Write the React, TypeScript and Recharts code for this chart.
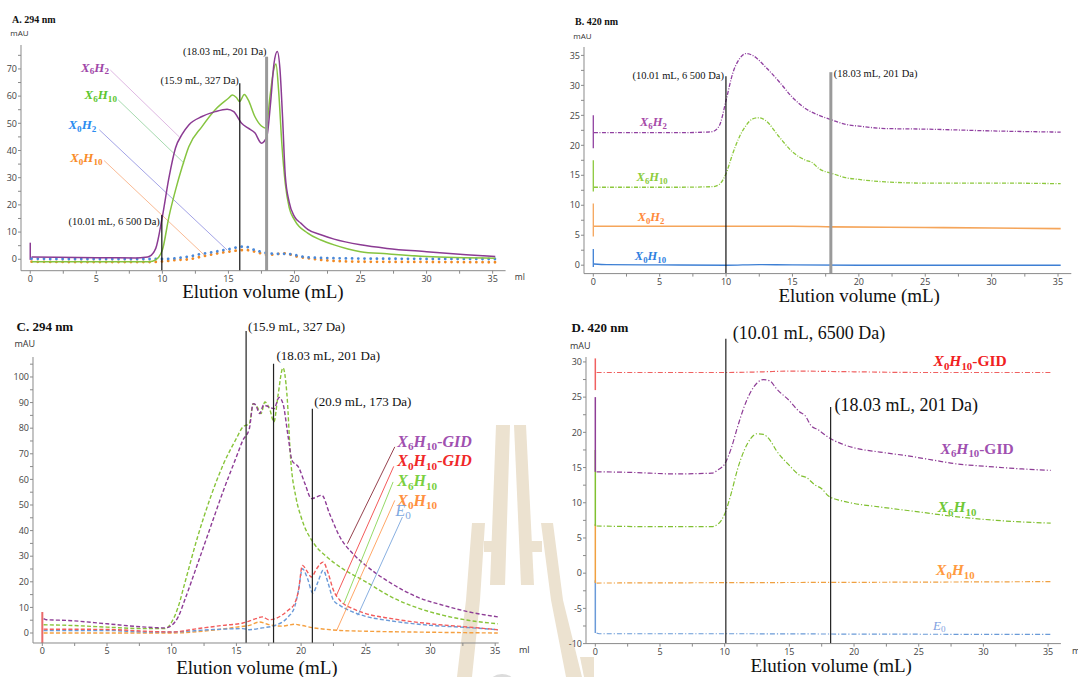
import type { ReactNode } from 'react';
import { LineChart, Line, XAxis, YAxis, ReferenceLine, ReferenceDot } from 'recharts';

type Pair = [number, number];

// ---------- A. 294 nm ----------
const A_X6H2: Pair[] = [
  [0.1, 0.8], [2, 0.7], [5, 0.6], [8, 0.5], [8.7, 0.7], [9, 1], [9.5, 4], [10, 15.7], [10.5, 30],
  [11, 41], [11.5, 46], [12, 49.4], [13, 52.5], [14, 54.3], [14.9, 55.2], [15.4, 54.3], [16, 50],
  [16.5, 48.2], [17, 46.5], [17.5, 42.7], [17.9, 45], [18.2, 58], [18.45, 72], [18.7, 76.4],
  [18.9, 70], [19.1, 52], [19.3, 31], [19.6, 21], [20, 15.7], [20.5, 13.2], [21, 11], [22, 9],
  [23, 7.4], [25, 5.3], [27, 4], [30, 2.8], [33, 1.7], [35.2, 1],
];
const A_X6H10: Pair[] = [
  [0.1, -0.9], [3, -0.9], [6, -0.9], [9, -0.9], [9.5, -0.2], [10, 3.4], [10.5, 15.7], [11, 25.5],
  [11.5, 34], [12, 41.4], [13, 48.8], [14, 55], [15, 59.2], [15.3, 60.4], [15.6, 59.5], [15.85, 58],
  [16.2, 60.6], [16.5, 58.6], [17, 52.5], [17.5, 49], [17.85, 48.2], [18.15, 60], [18.4, 69],
  [18.6, 71.8], [18.8, 62], [19.05, 42], [19.3, 28], [19.6, 19], [20, 14.5], [21, 9.6], [22, 7.1],
  [23, 5.3], [25, 2.8], [27, 2], [30, 1], [35.2, 0.4],
];
const A_X0H2: Pair[] = [
  [0.1, 0.2], [3, 0.1], [6, 0.1], [9, 0.1], [10, 0.1], [11, 0.4], [12, 1], [13, 2], [14, 2.8],
  [15, 3.7], [16.2, 4.7], [17, 3.4], [18, 2.2], [19, 2], [19.5, 2], [20, 1.6], [21, 0.7], [23, 0.4],
  [27, 0.2], [35.2, 0.1],
];
const A_X0H10: Pair[] = [
  [0.1, -0.9], [3, -1], [6, -1], [9, -1], [10, -0.8], [11, -0.3], [12, 0], [13, 1], [14, 2],
  [15, 2.8], [16.3, 3.4], [17, 2.8], [18, 1.6], [19.3, 2.2], [20, 1.2], [21, 0.4], [22, -0.2],
  [25, -0.9], [30, -1], [35.2, -1.1],
];
const A_SPIKE: Pair = [-0.2, 6.1];
const A_MARK_X = [9.96, 15.86, 17.89];
const A_MARK_TOP = [16.3, 64.7, 74.5];
const A_MARK_TEXT = ['(10.01 mL, 6 500 Da)', '(15.9 mL, 327 Da)', '(18.03 mL, 201 Da)'];

// ---------- B. 420 nm ----------
const B_X6H2: Pair[] = [
  [0.05, 22.1], [3, 22.1], [6, 22.1], [8.5, 22.2], [9, 22.3], [9.5, 23.3], [10, 27.5], [10.5, 32],
  [11, 34.4], [11.5, 35.3], [12, 35], [13, 33], [14, 30.6], [15, 28], [16, 26.1], [17, 25],
  [18, 24.2], [19, 23.5], [20, 23.2], [22, 22.8], [25, 22.7], [30, 22.4], [35.2, 22.2],
];
const B_X6H10: Pair[] = [
  [0.05, 13], [3, 13], [6, 13], [9, 13.1], [9.5, 13.5], [10, 15.3], [10.5, 18.6], [11, 21.4],
  [11.5, 23.3], [12, 24.4], [12.5, 24.6], [13, 24.1], [14, 21.4], [15, 18.9], [16, 17.5],
  [16.5, 17.1], [17, 16.1], [18, 15.3], [19, 14.6], [20, 14.3], [22, 13.9], [25, 13.7], [30, 13.7],
  [35.2, 13.6],
];
const B_X0H2: Pair[] = [[0.05, 6.5], [10, 6.5], [15, 6.5], [18, 6.4], [25, 6.3], [30, 6.2], [35.2, 6.1]];
const B_X0H10: Pair[] = [[0.05, 0.2], [1, 0.1], [5, 0.05], [10, 0], [12.5, 0.1], [15, 0.05], [20, 0], [35.2, 0]];
const B_SPIKES: Pair[] = [[19.5, 25], [12.3, 17.5], [4.8, 10.3], [-0.3, 2.7]];
const B_MARK_X = [9.99, 17.89];
const B_MARK_TOP = [31.5, 32.2];
const B_MARK_TEXT = ['(10.01 mL, 6 500 Da)', '(18.03 mL, 201 Da)'];

// ---------- C. 294 nm ----------
const C_X6H10GID: Pair[] = [
  [0.1, 5.6], [0.3, 5.2], [2, 4.9], [5, 3.6], [8, 2.3], [9.5, 2], [10, 3], [10.5, 6.3], [11, 12.8],
  [12, 27], [13, 41.4], [14, 55.7], [15, 68.8], [15.5, 75.3], [16, 79.8], [16.3, 89.6], [16.5, 89],
  [16.8, 85.7], [17.1, 89], [17.5, 88.3], [17.9, 87.6], [18.3, 92], [18.6, 89.6], [19, 76.6],
  [19.3, 67.4], [19.8, 64.8], [20.3, 58.3], [20.8, 52.5], [21.6, 53.8], [22.2, 46.6], [23, 37.5],
  [24, 31], [25, 26.4], [27, 19.3], [29, 14], [31, 10.8], [33, 8.2], [35.2, 6.3],
];
const C_X6H10: Pair[] = [
  [0.1, 3.2], [2, 3], [5, 2.3], [8, 1.7], [9.5, 1.7], [10, 4.3], [10.5, 10.2], [11, 19.3], [12, 37.5],
  [13, 53], [14, 66], [15, 76], [15.5, 80.5], [16, 81.8], [16.3, 89.6], [16.6, 88.3], [16.9, 85.7],
  [17.2, 90.2], [17.6, 87], [17.9, 82.4], [18.2, 92.2], [18.6, 103.6], [18.9, 93.5], [19.2, 67.4],
  [19.6, 53], [20, 45.3], [21, 34.9], [22, 29.7], [23, 25.8], [25, 20], [27, 14], [29, 9.8],
  [31, 6.9], [33, 4.9], [35.2, 3.6],
];
const C_X0H10GID: Pair[] = [
  [0.1, 1.5], [5, 1.4], [8, 0.7], [10, 0.4], [12, 1.7], [14, 3], [15.5, 3.9], [16.5, 5.6], [17, 6.3],
  [17.5, 5.2], [18, 5.6], [18.5, 6.9], [19, 8.9], [19.5, 11.5], [19.8, 16.7], [20.1, 26.4],
  [20.5, 23.8], [20.8, 21.9], [21.2, 25.1], [21.7, 27.7], [22.1, 23.2], [22.5, 16.7], [23, 12.8],
  [24, 9.5], [25, 7.6], [27, 5.6], [30, 3.6], [33, 2.3], [35.2, 1.3],
];
const C_E0: Pair[] = [
  [0.1, 1], [5, 1], [8, 0.4], [10, 0.4], [13, 1.3], [15.5, 1.7], [16, 1.3], [17, 2], [18, 3], [19, 6.3],
  [19.5, 10.2], [19.8, 16.7], [20.1, 25.1], [20.5, 21.2], [20.9, 15.6], [21.3, 19.9], [21.7, 24.5],
  [22.1, 19.3], [22.5, 12.8], [23, 10.8], [24, 8.2], [25, 6.5], [27, 4.7], [30, 3], [33, 2.1], [35.2, 1.3],
];
const C_X0H10: Pair[] = [
  [0.1, 0], [5, 0], [10, 0], [13, 1], [15, 2.3], [16, 3], [16.8, 4.3], [17.5, 3.3], [18.5, 2.7],
  [19.5, 3.4], [20, 3], [21, 2], [22, 1.4], [23, 1], [25, 0.7], [30, 0.3], [35.2, 0],
];
const C_SPIKE: Pair = [-3.9, 8.2];
const C_MARK_X = [15.75, 17.87, 20.87];
const C_MARK_TOP = [118, 105.2, 87.6];
const C_MARK_TEXT = ['(15.9 mL, 327 Da)', '(18.03 mL, 201 Da)', '(20.9 mL, 173 Da)'];

// ---------- D. 420 nm ----------
const D_X0H10GID: Pair[] = [[0.1, 28.5], [5, 28.5], [10, 28.5], [13, 28.6], [15, 28.7], [20, 28.6], [25, 28.5], [35.2, 28.5]];
const D_X6H10GID: Pair[] = [
  [0.1, 14.4], [3, 14.3], [6, 14.1], [9, 14.2], [9.5, 14.7], [10, 15.5], [10.5, 17.7], [11, 20.8],
  [11.5, 23.6], [12, 25.7], [12.5, 27], [13, 27.5], [13.5, 27.3], [14, 26.2], [15, 24.5], [15.8, 22.9],
  [16.2, 22.4], [16.7, 20.9], [17.2, 20.4], [18, 19.3], [19, 18.4], [20, 17.8], [22, 17.2], [24, 16.7],
  [26, 16.1], [28, 15.5], [30, 15.2], [33, 14.8], [35.2, 14.6],
];
const D_X6H10: Pair[] = [
  [0.1, 6.7], [5, 6.6], [9, 6.6], [9.5, 7], [10, 8.4], [10.5, 11.3], [11, 14.8], [11.5, 17.4], [12, 19.1],
  [12.5, 19.8], [13, 19.7], [13.5, 18.9], [14, 17.4], [15, 15.3], [15.8, 13.9], [16.3, 13.6], [17, 12.5],
  [17.5, 12], [18, 11], [19, 10.3], [20, 9.9], [22, 9.4], [25, 8.7], [28, 8], [31, 7.5], [35.2, 7.1],
];
const D_X0H10: Pair[] = [[0.1, -1.4], [10, -1.35], [20, -1.3], [35.2, -1.2]];
const D_E0: Pair[] = [[0.1, -8.5], [0.3, -8.6], [10, -8.6], [20, -8.65], [35.2, -8.7]];
const D_SPIKES: Pair[] = [[-8.5, -1], [-1.4, 7], [6.7, 17.5], [14.4, 25], [26, 30.5]];
const D_MARK_X = [10.09, 18.19];
const D_MARK_TOP = [33.3, 23.6];
const D_MARK_TEXT = ['(10.01 mL, 6500 Da)', '(18.03 mL, 201 Da)'];

// ticks
const X_TICKS = [0, 2.5, 5, 7.5, 10, 12.5, 15, 17.5, 20, 22.5, 25, 27.5, 30, 32.5, 35];
const A_Y_TICKS = [0, 5, 10, 15, 20, 25, 30, 35, 40, 45, 50, 55, 60, 65, 70, 75];
const B_Y_TICKS = [0, 2.5, 5, 7.5, 10, 12.5, 15, 17.5, 20, 22.5, 25, 27.5, 30, 32.5, 35];
const C_Y_TICKS = [0, 5, 10, 15, 20, 25, 30, 35, 40, 45, 50, 55, 60, 65, 70, 75, 80, 85, 90, 95, 100, 105];
const D_Y_TICKS = [-10, -7.5, -5, -2.5, 0, 2.5, 5, 7.5, 10, 12.5, 15, 17.5, 20, 22.5, 25, 27.5, 30];

const serif = '"Liberation Serif", "Times New Roman", serif';
const sans = '"Open Sans", "Liberation Sans", Arial, sans-serif';

const pts = (a: Pair[]) => a.map(([x, y]) => ({ x, y }));

const series = (key: string, data: Pair[], stroke: string, extra: Record<string, unknown> = {}) => (
  <Line
    key={key}
    data={pts(data)}
    dataKey='y'
    type='monotone'
    stroke={stroke}
    strokeWidth={1.4}
    dot={false}
    activeDot={false}
    isAnimationActive={false}
    {...extra}
  />
);

const seg = (key: string, x1: number, y1: number, x2: number, y2: number, stroke: string, w = 0.8) => (
  <ReferenceLine
    key={key}
    segment={[{ x: x1, y: y1 }, { x: x2, y: y2 }]}
    stroke={stroke}
    strokeWidth={w}
    ifOverflow='visible'
  />
);

const note = (key: string, x: number, y: number, draw: (cx: number, cy: number) => ReactNode) => (
  <ReferenceDot
    key={key}
    x={x}
    y={y}
    r={0}
    ifOverflow='visible'
    shape={(p: any) => <g>{draw(p.cx, p.cy)}</g>}
  />
);

// alternating parts: normal, subscript, normal, subscript, ...
const formula = (
  cx: number,
  cy: number,
  parts: string[],
  size: number,
  color: string,
  bold = true,
  uprightTail = false,
) => {
  const sh = size * 0.22;
  return (
    <text x={cx} y={cy + size * 0.33} fill={color} fontFamily={serif} fontSize={size} fontWeight={bold ? 'bold' : 'normal'}>
      {parts.map((s, i) => {
        const sub = i % 2 === 1;
        const tail = uprightTail && i === parts.length - 1 && !sub;
        return (
          <tspan key={i} dy={i === 0 ? 0 : sub ? sh : -sh} fontSize={sub ? size * 0.7 : size} fontStyle={sub || tail ? 'normal' : 'italic'}>
            {s}
          </tspan>
        );
      })}
    </text>
  );
};

const ann = (cx: number, cy: number, text: string, size: number, anchor: 'start' | 'end') => (
  <text x={cx} y={cy} fontFamily={serif} fontSize={size} fill='#111' textAnchor={anchor}>
    {text}
  </text>
);

interface Frame {
  l: number;
  t: number;
  r: number;
  b: number;
  xd: [number, number];
  yd: [number, number];
  yt: number[];
  yStep: number;
}

const MARGIN = { top: 70, right: 40, bottom: 6, left: 0 };
const YW = 30;
const XH = 22;

const major = (step: number) => (v: number) => (Math.abs(v / step - Math.round(v / step)) < 1e-6 ? String(v) : '');

const Panel = ({ f, children }: { f: Frame; children: ReactNode }) => {
  const width = f.r - f.l + YW + MARGIN.right;
  const height = f.b - f.t + MARGIN.top + MARGIN.bottom + XH;
  const tick = { fill: '#444', fontSize: 9, fontFamily: sans };
  return (
    <div style={{ position: 'absolute', left: f.l - YW, top: f.t - MARGIN.top }}>
      <LineChart width={width} height={height} margin={MARGIN}>
        <XAxis
          type='number'
          dataKey='x'
          domain={f.xd}
          allowDataOverflow
          ticks={X_TICKS}
          interval={0}
          tickFormatter={major(5)}
          tick={tick}
          stroke='#8a8a8a'
          tickSize={3}
          tickMargin={2}
          height={XH}
        />
        <YAxis
          type='number'
          domain={f.yd}
          allowDataOverflow
          ticks={f.yt}
          interval={0}
          tickFormatter={major(f.yStep)}
          tick={tick}
          stroke='#8a8a8a'
          tickSize={3}
          tickMargin={1}
          width={YW}
        />
        {children}
      </LineChart>
    </div>
  );
};

const FA: Frame = { l: 20.6, t: 45, r: 505.2, b: 270.7, xd: [-0.7, 35.98], yd: [-4.2, 78.8], yt: A_Y_TICKS, yStep: 10 };
const FB: Frame = { l: 583.6, t: 46.7, r: 1070.9, b: 273.3, xd: [-0.7, 36.0], yd: [-1.4, 36.4], yt: B_Y_TICKS, yStep: 5 };
const FC: Frame = { l: 32.6, t: 356.7, r: 498.3, b: 642.7, xd: [-0.72, 35.27], yd: [-3.9, 107.8], yt: C_Y_TICKS, yStep: 10 };
const FD: Frame = { l: 585.7, t: 356.7, r: 1060.6, b: 643.3, xd: [-0.72, 35.99], yd: [-10, 30.7], yt: D_Y_TICKS, yStep: 5 };

const dots = { strokeWidth: 2.8, strokeDasharray: '0.01 6.2', strokeLinecap: 'round' };
const dashDotB = { strokeWidth: 1.3, strokeDasharray: '4 1.5 1 1.5' };
const dashC = { strokeWidth: 1.4, strokeDasharray: '4 2.2' };
const dashDotD = { strokeWidth: 1.2, strokeDasharray: '5 2 1.2 2' };

const PanelA = () => (
  <Panel f={FA}>
    {[
      seg('sp', 0, A_SPIKE[0], 0, A_SPIKE[1], '#8b3b93', 1.5),
      seg('l1', 6.06, 69.6, 11.26, 45.1, '#d6a6da'),
      seg('l2', 6.66, 58.6, 11.65, 35.3, '#8fd09a'),
      seg('l3', 5.23, 47.6, 14.9, 3.4, '#8c8ce0'),
      seg('l4', 5.59, 36.3, 13.29, 1.0, '#f7a878'),
      series('x0h10', A_X0H10, '#f28a24', dots),
      series('x0h2', A_X0H2, '#4a88d8', dots),
      series('x6h10', A_X6H10, '#86c440', { strokeWidth: 1.5 }),
      series('x6h2', A_X6H2, '#8b3b93', { strokeWidth: 1.5 }),
      seg('m0', A_MARK_X[0], FA.yd[0], A_MARK_X[0], A_MARK_TOP[0], '#111', 1.2),
      seg('m1', A_MARK_X[1], FA.yd[0], A_MARK_X[1], A_MARK_TOP[1], '#111', 1.2),
      seg('m2', A_MARK_X[2], FA.yd[0], A_MARK_X[2], A_MARK_TOP[2], '#9a9a9a', 3),
      note('t0', A_MARK_X[0], A_MARK_TOP[0], (x, y) => ann(x - 2, y + 10, A_MARK_TEXT[0], 10.5, 'end')),
      note('t1', A_MARK_X[1], A_MARK_TOP[1], (x, y) => ann(x - 1, y + 1, A_MARK_TEXT[1], 10.5, 'end')),
      note('t2', A_MARK_X[2], A_MARK_TOP[2], (x, y) => ann(x, y - 2, A_MARK_TEXT[2], 10.5, 'end')),
      note('f1', 3.85, 70.6, (x, y) => formula(x, y, ['X', '6', 'H', '2'], 13, '#a046a8')),
      note('f2', 4.11, 60.4, (x, y) => formula(x, y, ['X', '6', 'H', '10'], 13, '#5cc62e')),
      note('f3', 2.89, 49.4, (x, y) => formula(x, y, ['X', '0', 'H', '2'], 13, '#2a8cf0')),
      note('f4', 3.02, 37.4, (x, y) => formula(x, y, ['X', '0', 'H', '10'], 13, '#f98a26')),
    ]}
  </Panel>
);

const B_COLORS = ['#9040a0', '#8cc83c', '#f5a55a', '#3d7fd4'];

const PanelB = () => (
  <Panel f={FB}>
    {[
      ...B_SPIKES.map((s, i) => seg(`sp${i}`, 0, s[0], 0, s[1], B_COLORS[i], 1.3)),
      series('x0h10', B_X0H10, B_COLORS[3], { strokeWidth: 1.4 }),
      series('x0h2', B_X0H2, B_COLORS[2], { strokeWidth: 1.6 }),
      series('x6h10', B_X6H10, B_COLORS[1], dashDotB),
      series('x6h2', B_X6H2, B_COLORS[0], dashDotB),
      seg('m0', B_MARK_X[0], FB.yd[0], B_MARK_X[0], B_MARK_TOP[0], '#111', 1.2),
      seg('m1', B_MARK_X[1], FB.yd[0], B_MARK_X[1], B_MARK_TOP[1], '#9a9a9a', 3),
      note('t0', B_MARK_X[0], B_MARK_TOP[0], (x, y) => ann(x - 2, y + 3, B_MARK_TEXT[0], 10.5, 'end')),
      note('t1', B_MARK_X[1], B_MARK_TOP[1], (x, y) => ann(x + 3, y + 5, B_MARK_TEXT[1], 10.5, 'start')),
      note('f1', 3.52, 23.9, (x, y) => formula(x, y, ['X', '6', 'H', '2'], 12.5, '#a64aa8')),
      note('f2', 3.26, 14.7, (x, y) => formula(x, y, ['X', '6', 'H', '10'], 12.5, '#8ccc3c')),
      note('f3', 3.34, 8.1, (x, y) => formula(x, y, ['X', '0', 'H', '2'], 12.5, '#ff8a3c')),
      note('f4', 3.13, 1.5, (x, y) => formula(x, y, ['X', '0', 'H', '10'], 12.5, '#2f7fe0')),
    ]}
  </Panel>
);

const PanelC = () => (
  <Panel f={FC}>
    {[
      seg('sp', 0, C_SPIKE[0], 0, C_SPIKE[1], '#ea6a6a', 2),
      series('x0h10', C_X0H10, '#f5a040', dashC),
      series('e0', C_E0, '#6a9ad8', dashC),
      series('x0h10gid', C_X0H10GID, '#f25c5c', dashC),
      series('x6h10', C_X6H10, '#88c43a', dashC),
      series('x6h10gid', C_X6H10GID, '#8e3d96', dashC),
      seg('l1', 27.24, 72.7, 23.58, 34.9, '#7a1020'),
      seg('l2', 27.16, 65.1, 22.73, 14.7, '#f03030'),
      seg('l3', 27.11, 59, 23.31, 11.5, '#7ad040'),
      seg('l4', 27.24, 51.8, 22.73, 0.8, '#ff9040'),
      seg('l5', 27.83, 45.3, 24.38, 6.9, '#6a9ad8'),
      ...C_MARK_X.map((m, i) => seg(`m${i}`, m, FC.yd[0], m, C_MARK_TOP[i], '#222', 1.2)),
      note('t0', C_MARK_X[0], C_MARK_TOP[0], (x, y) => ann(x + 2, y, C_MARK_TEXT[0], 13, 'start')),
      note('t1', C_MARK_X[1], C_MARK_TOP[1], (x, y) => ann(x + 3, y - 4, C_MARK_TEXT[1], 13, 'start')),
      note('t2', C_MARK_X[2], C_MARK_TOP[2], (x, y) => ann(x + 2, y - 3, C_MARK_TEXT[2], 13, 'start')),
      note('f1', 27.43, 74.9, (x, y) => formula(x, y, ['X', '6', 'H', '10', '-GID'], 16, '#a050b0')),
      note('f2', 27.43, 67.2, (x, y) => formula(x, y, ['X', '0', 'H', '10', '-GID'], 16, '#f02828')),
      note('f3', 27.43, 59.4, (x, y) => formula(x, y, ['X', '6', 'H', '10'], 16, '#7ad040')),
      note('f4', 27.43, 51.8, (x, y) => formula(x, y, ['X', '0', 'H', '10'], 16, '#ff9040')),
      note('f5', 27.3, 47.9, (x, y) => formula(x, y, ['E', '0'], 16, '#80a8e0', false)),
    ]}
  </Panel>
);

const D_COLORS = ['#6a9ad8', '#f0a040', '#80c030', '#8e3d96', '#f06060'];

const PanelD = () => (
  <Panel f={FD}>
    {[
      ...D_SPIKES.map((s, i) => seg(`sp${i}`, 0, s[0], 0, s[1], D_COLORS[i], 1.5)),
      series('e0', D_E0, D_COLORS[0], dashDotD),
      series('x0h10', D_X0H10, D_COLORS[1], dashDotD),
      series('x6h10', D_X6H10, D_COLORS[2], dashDotD),
      series('x6h10gid', D_X6H10GID, D_COLORS[3], dashDotD),
      series('x0h10gid', D_X0H10GID, D_COLORS[4], dashDotD),
      ...D_MARK_X.map((m, i) => seg(`m${i}`, m, FD.yd[0], m, D_MARK_TOP[i], '#222', 1.2)),
      note('t0', D_MARK_X[0], D_MARK_TOP[0], (x, y) => ann(x + 7, y, D_MARK_TEXT[0], 18, 'start')),
      note('t1', D_MARK_X[1], D_MARK_TOP[1], (x, y) => ann(x + 4, y + 4, D_MARK_TEXT[1], 18, 'start')),
      note('f1', 26.15, 30.1, (x, y) => formula(x, y, ['X', '0', 'H', '10', '-GID'], 15.5, '#f02020', true, true)),
      note('f2', 26.69, 17.7, (x, y) => formula(x, y, ['X', '6', 'H', '10', '-GID'], 15.5, '#a050b0', true, true)),
      note('f3', 26.47, 9.4, (x, y) => formula(x, y, ['X', '6', 'H', '10'], 15.5, '#70c838')),
      note('f4', 26.34, 0.4, (x, y) => formula(x, y, ['X', '0', 'H', '10'], 15.5, '#ff9a40')),
      note('f5', 26.1, -7.4, (x, y) => formula(x, y, ['E', '0'], 13, '#80a0e0', false)),
    ]}
  </Panel>
);

const beige = '#ece2d0';

const Watermark = () => (
  <svg width={1078} height={677} style={{ position: 'absolute', left: 0, top: 0 }}>
    <polygon points='496,425 510,425 505,585 490,585' fill={beige} />
    <polygon points='514,425 526,425 534,585 521,585' fill={beige} />
    <polygon points='472,523 485,523 480,600 472,677 457,677 466,600' fill={beige} />
    <polygon points='484,541 494,541 493,552 484,552' fill={beige} />
    <polygon points='541,523 553,523 563,600 582,677 566,677 551,600' fill={beige} />
    <polygon points='525,541 542,541 542,552 527,552' fill={beige} />
    <polygon points='580,657 594,657 594,677 584,677' fill={beige} />
    <circle cx={502} cy={690} r={16} fill='#dcdcdc' />
  </svg>
);

const Texts = () => (
  <svg width={1078} height={677} style={{ position: 'absolute', left: 0, top: 0, pointerEvents: 'none' }}>
    <g fontFamily={serif} fontWeight='bold' fill='#111'>
      <text x={12} y={23} fontSize={10}>A. 294 nm</text>
      <text x={575} y={25} fontSize={10}>B. 420 nm</text>
      <text x={16.5} y={331} fontSize={13}>C. 294 nm</text>
      <text x={571.6} y={332} fontSize={13}>D. 420 nm</text>
    </g>
    <g fontFamily={sans} fill='#333'>
      <text x={10.3} y={36} fontSize={8}>mAU</text>
      <text x={573.3} y={39} fontSize={8}>mAU</text>
      <text x={14.4} y={347} fontSize={9}>mAU</text>
      <text x={570} y={348.5} fontSize={9}>mAU</text>
      <text x={514.8} y={279.5} fontSize={8.5}>ml</text>
      <text x={518.9} y={653} fontSize={9}>ml</text>
      <text x={1072} y={654} fontSize={9}>ml</text>
    </g>
    <g fontFamily={serif} fill='#111' fontSize={19} textAnchor='middle'>
      <text x={262.9} y={298}>Elution volume (mL)</text>
      <text x={859.2} y={301.7}>Elution volume (mL)</text>
      <text x={256.9} y={674}>Elution volume (mL)</text>
      <text x={831.2} y={672}>Elution volume (mL)</text>
    </g>
  </svg>
);

export default function App() {
  return (
    <div
      style={{
        position: 'absolute',
        left: 0,
        top: 0,
        width: 1078,
        height: 677,
        overflow: 'hidden',
        background: '#fff',
      }}
    >
      <Watermark />
      <PanelA />
      <PanelB />
      <PanelC />
      <PanelD />
      <Texts />
    </div>
  );
}
